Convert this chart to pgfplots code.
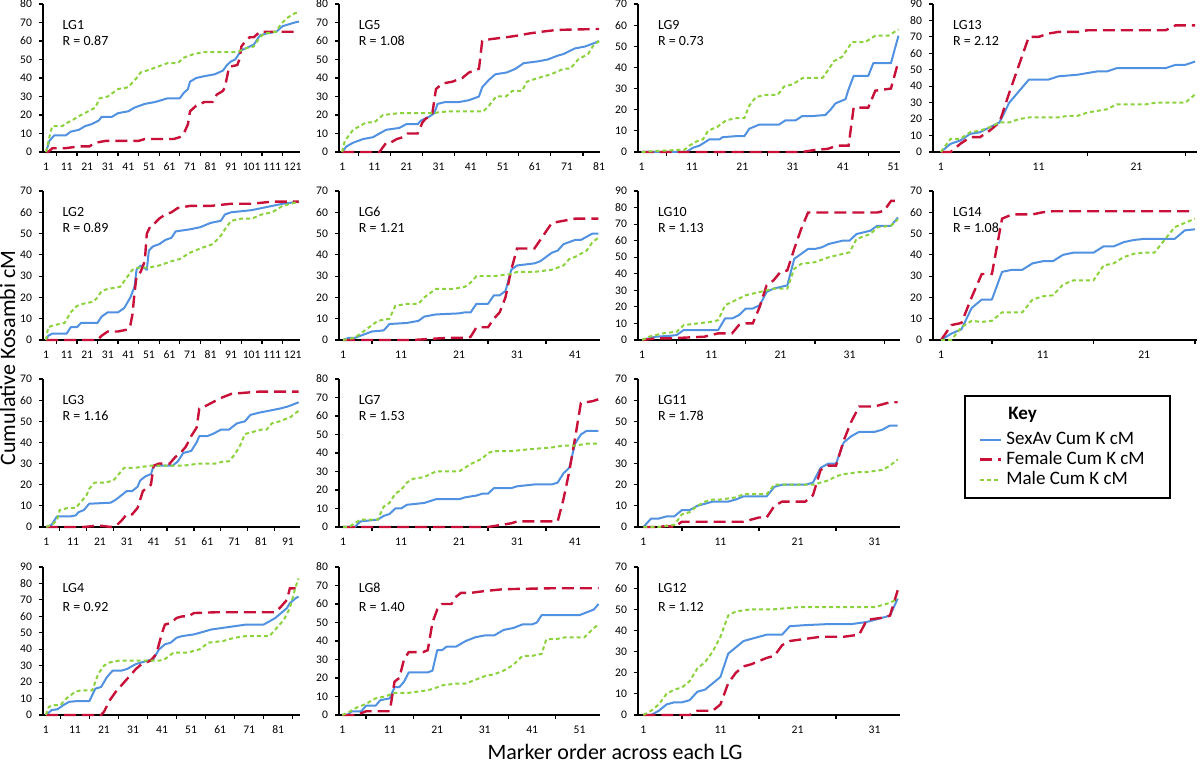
\documentclass[border=0pt]{standalone}
\usepackage{fontspec}
\setmainfont{Carlito}
\usepackage{pgfplots}
\pgfplotsset{compat=1.18}
\definecolor{cblue}{RGB}{80,145,225}
\definecolor{cred}{RGB}{200,16,56}
\definecolor{cgreen}{RGB}{140,210,60}
\tikzset{
 sa/.style={color=cblue, line width=1pt, line join=round},
 fe/.style={color=cred, line width=1.2pt, dash pattern=on 6pt off 3pt},
 ma/.style={color=cgreen, line width=1pt, dash pattern=on 2pt off 1.5pt},
 lgl/.style={anchor=west, font=\fontsize{7}{8}\selectfont, inner sep=0pt},
}
\pgfplotsset{
 lg/.style={
  scale only axis, anchor=south west,
  axis x line=bottom, axis y line=left,
  axis line style={-, line width=1.1pt, black},
  ymin=0, ytick distance=10,
  xtick={1,11,...,121},
  minor xtick={6,16,...,126},
  tick align=outside,
  major tick length=2pt, minor tick length=2pt,
  major x tick style={draw=none},
  tick style={black, line width=0.6pt},
  ticklabel style={font=\fontsize{5.8}{6.5}\selectfont},
  /pgf/number format/assume math mode=true,
  clip=false,
 },
 c1/.style={width=128.5pt}, c2/.style={width=130.5pt}, c3/.style={width=131pt}, c4/.style={width=132pt},
 r1/.style={height=74pt}, r2/.style={height=74.5pt}, r3/.style={height=74pt}, r4/.style={height=74pt},
}
\begin{document}
\begin{tikzpicture}
\useasboundingbox (0,0) rectangle (600pt,383pt);

% ---------------- Row 1 ----------------
\begin{axis}[lg, c1, r1, at={(21.5pt,307pt)}, xmin=-0.5, xmax=124.5, ymax=80]
\addplot[sa] coordinates {(1,0)(2.6,6)(5,9)(10.6,9)(13,11)(17,12)(20,14)(23,15)(26.6,17)(28,19)(33,19)(36,21)(41,22)(44,24)(49,26)(54,27)(57,28)(60,29)(66,29)(68,32)(70,34)(71,38)(74,40)(78,41)(83,42)(87,44)(89,47)(91,49)(93,50)(96,55)(100,57)(102,58)(105,63)(108,64)(113,65)(116,68)(119,69)(122,70)(124,70.5)};
\addplot[fe] coordinates {(1,0)(2,0)(4,2)(10,2)(17,3)(22,3)(25,5)(30,6)(46,6)(49,7)(63,7)(66,8)(68,10)(70,15)(71,22)(74,25)(78,27)(82,27)(84,31)(87,33)(88,35)(90,46)(94,47)(95,50)(96,57)(98,60)(100,62)(102,62)(105,65)(124,65)};
\addplot[ma] coordinates {(1,0)(3,10)(4,14)(9,14)(10,15)(15,18)(18,20)(25,24)(27,29)(31,30)(36,34)(41,35)(45,40)(47,43)(50,44)(55,46)(60,48)(65,48)(68,51)(73,53)(78,54)(94,54)(98,56)(102,57)(105,62)(107,64)(113,65)(115,69)(119,73)(122,75)(124,75)};
\node[lgl] at (rel axis cs:0.075,0.86) {LG1};
\node[lgl] at (rel axis cs:0.075,0.75) {R = 0.87};
\end{axis}

\begin{axis}[lg, c2, r1, at={(169.5pt,307pt)}, xmin=0, xmax=81.3, ymax=80]
\addplot[sa] coordinates {(1,0)(2.3,3)(4.4,5)(7.5,7)(10.6,8)(12.6,10)(14.7,12)(18.8,13)(20.9,15)(24.5,15)(25.5,17)(28,19)(29.7,21)(30.7,26)(33,27)(37.4,27)(40.5,28)(43.6,30)(44.6,35)(46.7,39)(48.7,42)(52.3,43)(55,45)(57.5,48)(62,49)(65,50)(68,52)(70,53)(73.5,56)(76.6,57)(79.7,59)(81,60)};
\addplot[fe] coordinates {(1,0)(12.6,0)(14.7,5)(16,5)(18,7)(19.9,8)(21.4,10)(24.5,10)(26,16)(27,18)(29,20)(30.2,34)(32.2,37)(35.3,38)(38.4,40)(40.5,43)(43.6,45)(44.6,60)(47.2,61)(52,62)(56,63)(59,64)(63,65)(68,66)(81,66.5)};
\addplot[ma] coordinates {(1,0)(1.8,6)(4.4,12)(8.5,16)(11,16)(13.7,20)(18.8,21)(29,21)(34,22)(45,22)(46.7,25)(49,30)(52,30)(54,33)(57,33)(58.5,38)(62,40)(66,42)(70,45)(72,45)(74.5,50)(77.6,53)(79,57)(81,60)};
\node[lgl] at (rel axis cs:0.075,0.86) {LG5};
\node[lgl] at (rel axis cs:0.075,0.75) {R = 1.08};
\end{axis}

\begin{axis}[lg, c3, r1, at={(319pt,307pt)}, xmin=0.3, xmax=52.3, ymax=70]
\addplot[sa] coordinates {(1,0)(9.9,0)(11.2,2)(12.5,3)(14.5,6)(16.5,6)(17.1,7)(19.8,7.5)(21.4,7.5)(22.4,11)(24.4,13)(28.3,13)(29.6,15)(31.6,15)(32.9,17)(34.9,17)(37.5,17.5)(38.5,20)(39.5,23)(41.5,25)(42,29)(43.1,36)(46,36)(47,42)(50.5,42)(52,55)};
\addplot[fe] coordinates {(1,0)(32.9,0)(35.5,1)(38,1.5)(39.8,3)(42.1,3)(43.1,21)(46,21)(47.4,29)(50.5,30)(52,43)};
\addplot[ma] coordinates {(1,0)(4,0.5)(8.6,1)(9.5,1)(10.5,3)(11.9,5)(13.2,6)(14.2,10)(16.1,12)(17.8,15)(19.8,16)(21.4,16)(22.4,22)(23.7,26)(25.7,27)(28,27)(29.3,31)(31,32)(33,35)(36.9,35)(37.8,38)(39.2,43)(40.8,45)(42.8,52)(45.4,52)(47.4,55)(50,55)(52,58)};
\node[lgl] at (rel axis cs:0.075,0.86) {LG9};
\node[lgl] at (rel axis cs:0.075,0.75) {R = 0.73};
\end{axis}

\begin{axis}[lg, c4, r1, at={(466.5pt,307pt)}, xmin=0.2, xmax=27.2, ymax=90]
\addplot[sa] coordinates {(1,0)(2,5)(3,7)(4,11)(5,12)(6,15)(7,18)(8,30)(9,37)(10,44)(12,44)(13,46)(14,46.5)(15,47)(16,48)(17,49)(18,49)(19,51)(24,51)(25,53)(26,53)(27,55)};
\addplot[fe] coordinates {(1,0)(2,0)(3,5)(4,9)(5,9)(6,13)(7,18)(8,36)(9,53)(10,70)(11,70)(12,72)(13,73)(15,73)(16,74)(24,74)(25,77)(27,77)};
\addplot[ma] coordinates {(1,0)(2,8)(3,8)(4,12)(5,13)(6,15)(7,18)(8,18)(9,20)(10,21)(13,21)(14,22)(15,22)(16,24)(17,25)(18,26)(19,29)(22,29)(23,30)(26,30)(27,35)};
\node[lgl] at (rel axis cs:0.075,0.86) {LG13};
\node[lgl] at (rel axis cs:0.075,0.75) {R = 2.12};
\end{axis}

% ---------------- Row 2 ----------------
\begin{axis}[lg, c1, r2, at={(21.5pt,213pt)}, xmin=-0.5, xmax=124.5, ymax=70]
\addplot[sa] coordinates {(1,0)(2,2)(4,3)(11,3)(13,6)(16,6)(18,8)(26,8)(28,11)(31,13)(36,13)(39,15)(42,20)(44,25)(45,33)(47,35)(50,33)(51,42)(53,44)(56,45)(59,47)(62,48)(64,51)(71,52)(76,53)(81,55)(86,56)(88,59)(91,60)(101,61)(106,62)(111,63)(116,64)(124,65)};
\addplot[fe] coordinates {(1,0)(26,0)(28,2)(31,4)(36,4)(41,5)(42,7)(43,12)(44,22)(45,30)(47,32)(49,37)(50,50)(52,54)(54,55)(56,57)(59,59)(62,60)(65,62)(71,63)(81,63)(91,64)(101,64)(111,65)(124,65)};
\addplot[ma] coordinates {(1,0)(2,6)(5,7)(10,8)(13,13)(16,16)(19,17)(24,18)(26,20)(28,23)(31,24)(37,25)(40,29)(43,33)(46,34)(51,34)(56,35)(62,37)(66,38)(71,41)(76,43)(82,45)(86,49)(88,52)(91,56)(96,57)(101,57)(106,59)(111,60)(116,63)(124,65)};
\node[lgl] at (rel axis cs:0.075,0.86) {LG2};
\node[lgl] at (rel axis cs:0.075,0.75) {R = 0.89};
\end{axis}

\begin{axis}[lg, c2, r2, at={(169.5pt,213pt)}, xmin=0.3, xmax=45.3, ymax=70]
\addplot[sa] coordinates {(1,0)(2,1)(3,1)(5,3)(6,4)(8,4.5)(9,7.5)(12,8)(14,9)(15,11)(17,12)(21,12.5)(22,13)(23,13)(24,17)(26,17)(27,21)(28,21)(29,23)(30,33)(31,35)(34,36)(35,37)(37,41)(38,42)(39,45)(41,47)(42,47)(44,50)(45,50)};
\addplot[fe] coordinates {(1,0)(13,0)(16,0.5)(19,1)(22,1)(23,1.5)(24,6)(26,6)(27,10)(28,13)(29,20)(30,33)(31,43)(34,43)(35,47)(37,55)(39,56)(41,57)(45,57)};
\addplot[ma] coordinates {(1,0)(3,1)(5,5)(7,9)(9,10)(10,16)(12,17)(14,17)(15,20)(17,24)(20,24)(22,25)(23,27)(24,30)(27,30)(30,31)(31,32)(34,32)(37,33)(39,35)(40,38)(41,39)(43,42)(44,46)(45,48)};
\node[lgl] at (rel axis cs:0.075,0.86) {LG6};
\node[lgl] at (rel axis cs:0.075,0.75) {R = 1.21};
\end{axis}

\begin{axis}[lg, c3, r2, at={(319pt,213pt)}, xmin=0.4, xmax=38.3, ymax=90]
\addplot[sa] coordinates {(1,0)(2,1)(3,2)(5,2.5)(6,3)(7,6)(12,6)(13,13)(14,13)(15,15)(16,19)(17,19)(18,21)(19,29)(20,31)(21,32)(22,33)(23,49)(24,52)(25,55)(26,55)(27,56)(28,58)(29,59)(30,60)(31,60)(32,64)(33,65)(34,66)(35,69)(37,69)(38,74)};
\addplot[fe] coordinates {(1,0)(3,1)(5,1)(10,2)(12,4)(14,4)(15,9)(16,10)(17,10)(18,20)(19,33)(20,36)(21,41)(22,42)(23,55)(24,67)(25,77)(35,77)(36,78)(37,84)(38,84)};
\addplot[ma] coordinates {(1,0)(2,2)(3,3)(4,4)(6,5)(7,9)(9,10)(11,11)(12,12)(13,21)(15,25)(16,27)(18,29)(20,31)(22,31)(23,43)(24,46)(26,47)(28,50)(31,53)(32,61)(34,64)(35,68)(37,69)(38,73)};
\node[lgl] at (rel axis cs:0.075,0.86) {LG10};
\node[lgl] at (rel axis cs:0.075,0.75) {R = 1.13};
\end{axis}

\begin{axis}[lg, c4, r2, at={(466.5pt,213pt)}, xmin=0.2, xmax=26.2, ymax=70]
\addplot[sa] coordinates {(1,0)(2,3)(3,5)(4,15)(5,19)(6,19)(7,32)(8,33)(9,33)(10,36)(11,37)(12,37)(13,40)(14,41)(16,41)(17,44)(18,44)(19,46)(20,47)(21,47.5)(24,47.5)(25,51.5)(26,52)};
\addplot[fe] coordinates {(1,0)(2,7)(3,8)(4,20)(5,31)(6,31)(7,57)(8,59)(10,59)(11,60)(12,60.5)(26,60.5)};
\addplot[ma] coordinates {(1,0)(2,0)(3,6)(4,9)(5,8.5)(6,9)(7,13)(9,13)(10,19)(11,20.5)(12,21)(13,26)(14,28)(16,28)(17,35)(18,36)(19,39)(20,40.5)(21,41)(22,41)(23,47)(24,53)(25,55)(26,57)};
\node[lgl] at (rel axis cs:0.075,0.86) {LG14};
\node[lgl] at (rel axis cs:0.075,0.75) {R = 1.08};
\end{axis}

% ---------------- Row 3 ----------------
\begin{axis}[lg, c1, r3, at={(21.5pt,119.5pt)}, xmin=-0.2, xmax=95.5, ymax=70]
\addplot[sa] coordinates {(1,0)(3,1)(5,5)(10,5)(12,5.5)(13,7)(15,8)(17,11)(25,11.5)(27,13)(29,15)(31,17)(33,17)(35,19)(36,22)(38,24)(40,25)(41,29)(48,29)(50,31)(52,35)(55,36)(57,40)(58,43)(61,43)(63,44)(66,46)(69,46)(72,49)(75,50)(77,53)(80,54)(84,55)(88,56)(91,57)(95,59)};
\addplot[fe] coordinates {(1,0)(15,0)(19,0.5)(22,0.5)(25,0)(27,0.5)(29,3)(31,6)(33,6)(35,9)(37,17)(39,19)(40,20)(41,29)(43,30)(47,30)(49,33)(51,35)(53,38)(55,43)(57,47)(58,56)(60,57)(63,59)(66,61)(70,63)(75,63.5)(80,64)(95,64)};
\addplot[ma] coordinates {(1,0)(3,1)(5,3)(6,8)(9,9)(12,9)(14,12)(16,15)(17,18)(19,21)(23,21)(26,22)(28,25)(30,28)(34,28)(40,29)(52,29)(58,30)(64,30)(67,31)(69,31)(71,34)(73,38)(75,44)(78,45)(81,46)(83,46)(85,49)(88,50)(92,52)(95,55)};
\node[lgl] at (rel axis cs:0.075,0.86) {LG3};
\node[lgl] at (rel axis cs:0.075,0.75) {R = 1.16};
\end{axis}

\begin{axis}[lg, c2, r3, at={(169.5pt,119.5pt)}, xmin=0.3, xmax=45.3, ymax=80]
\addplot[sa] coordinates {(1,0)(3,0)(4,3)(7,4)(8,6)(9,7)(10,10)(11,10)(12,12)(15,13)(17,15)(21,15)(22,16)(24,17)(25,18)(26,18)(27,21)(30,21)(31,22)(34,23)(37,23)(38,24)(39,29)(40,32)(41,45)(42,50)(43,52)(45,52)};
\addplot[fe] coordinates {(1,0)(26,0)(28,1)(30,2)(31,3)(38,3)(39,15)(40,30)(41,48)(42,67)(44,68)(45,69)};
\addplot[ma] coordinates {(1,0)(2,0)(3,2)(4,4)(7,4)(8,11)(9,13)(10,18)(11,20)(12,24)(13,26)(15,27)(17,30)(21,30)(23,34)(25,37)(26,40)(27,41)(30,41)(33,42)(37,43)(39,44)(41,44)(43,45)(45,45)};
\node[lgl] at (rel axis cs:0.075,0.86) {LG7};
\node[lgl] at (rel axis cs:0.075,0.75) {R = 1.53};
\end{axis}

\begin{axis}[lg, c3, r3, at={(319pt,119.5pt)}, xmin=0.3, xmax=34.3, ymax=70,
  legend style={at={(1.3,0.4527)}, anchor=west, draw=none, fill=none, inner sep=0pt,
    font=\fontsize{9.5}{10.5}\selectfont, cells={anchor=west}, row sep=-2pt},
  legend image code/.code={\draw[#1] (0pt,0pt) -- (10.5pt,0pt);}]
\addplot[sa] coordinates {(1,0)(2,4)(3,4)(4,5)(5,5)(6,8)(7,8)(8,10)(9,11)(10,12)(12,12)(13,13)(14,14.5)(17,14.5)(18,19)(19,20)(22,20)(23,21)(24,28)(25,30)(26,30)(27,40)(28,43)(29,45)(31,45)(32,46)(33,48)(34,48)};
\addlegendentry{SexAv Cum K cM}
\addplot[fe] coordinates {(1,0)(3,0)(4,0.5)(5,0)(6,2.5)(14,2.5)(15,3.5)(16,4.5)(17,4.5)(18,10)(19,12)(22,12)(23,15)(24,27)(25,29)(26,29)(27,41)(28,50)(29,57)(31,57)(32,58)(33,59)(34,59)};
\addlegendentry{Female Cum K cM}
\addplot[ma] coordinates {(1,0)(3,0)(4,0.5)(5,1)(6,6)(7,7)(8,10)(9,12)(10,13)(11,13)(12,13.5)(13,14)(14,15.5)(17,15.5)(18,20)(23,20)(24,21)(25,22)(26,24)(27,25)(28,25.5)(29,26)(30,26)(31,26.5)(32,27)(33,29)(34,32)};
\addlegendentry{Male Cum K cM}
\node[lgl] at (rel axis cs:0.075,0.86) {LG11};
\node[lgl] at (rel axis cs:0.075,0.75) {R = 1.78};
\end{axis}

% ---------------- Row 4 ----------------
\begin{axis}[lg, c1, r4, at={(21.5pt,25.5pt)}, xmin=0, xmax=88.5, ymax=90]
\addplot[sa] coordinates {(1,0)(3,3)(5,3.5)(7,6)(9,8)(12,8.5)(16,8.5)(18,16)(20,17)(22,23)(24,27)(27,27)(29,28)(32,31)(36,33)(38,34)(40,40)(42,43)(44,44)(46,47)(48,48)(52,49)(56,51)(58,52)(62,53)(66,54)(70,55)(76,55)(78,57)(80,59)(82,62)(84,65)(85,68)(87,71)(88,72)};
\addplot[fe] coordinates {(1,0)(20,0)(21,2)(23,9)(25,14)(27,18)(29,22)(30,24)(32,28)(34,31)(37,33)(39,37)(41,50)(42,55)(44,56)(46,59)(48,60)(50,60)(52,62)(60,62.5)(80,62.5)(82,66)(84,70)(85,77)(88,77)};
\addplot[ma] coordinates {(1,0)(2,5)(4,6)(6,6)(8,10)(11,14)(13,15)(17,15)(19,25)(21,30)(23,32)(26,33)(40,33)(42,34)(45,38)(50,38)(54,40)(57,44)(62,45)(66,47)(70,48)(78,48)(80,52)(83,58)(85,65)(87,78)(88,83)};
\node[lgl] at (rel axis cs:0.075,0.86) {LG4};
\node[lgl] at (rel axis cs:0.075,0.73) {R = 0.92};
\end{axis}

\begin{axis}[lg, c2, r4, at={(169.5pt,25.5pt)}, xmin=0.3, xmax=55.3, ymax=80]
\addplot[sa] coordinates {(1,0)(2,0)(3,2)(5,2)(6,5)(8,5)(9,8)(11,9)(12,15)(13,15)(14,18)(15,23)(19,23)(20,24)(21,35)(22,35)(23,37)(25,37)(27,40)(29,42)(31,43)(33,43)(35,46)(37,47)(39,49)(41,49)(42,50)(43,54)(51,54)(52,55)(54,57)(55,60)};
\addplot[fe] coordinates {(1,0)(4,0)(6,2)(11,2)(12,18)(13,20)(14,30)(15,34)(18,34)(19,35)(20,50)(21,57)(22,60)(24,60)(25,64)(26,66)(28,66)(31,67)(35,68)(45,68.5)(55,68.5)};
\addplot[ma] coordinates {(1,0)(2,1)(4,4)(6,6)(8,9)(10,10)(12,12)(15,12)(18,13)(20,14)(22,16)(25,17)(27,17)(29,19)(31,21)(33,22)(35,24)(37,27)(39,32)(41,32)(43,33)(44,41)(46,41)(48,42)(52,42)(54,47)(55,49)};
\node[lgl] at (rel axis cs:0.075,0.86) {LG8};
\node[lgl] at (rel axis cs:0.075,0.73) {R = 1.40};
\end{axis}

\begin{axis}[lg, c3, r4, at={(319pt,25.5pt)}, xmin=0.3, xmax=34.3, ymax=70]
\addplot[sa] coordinates {(1,0)(2,0)(3,2)(4,5)(5,6)(6,6)(7,7)(8,11)(9,12)(10,15)(11,18)(12,29)(13,32)(14,35)(15,36)(17,38)(19,38)(20,42)(22,42.5)(25,43)(28,43)(30,44)(32,46)(33,47)(34,55)};
\addplot[fe] coordinates {(1,0)(7,0)(8,2)(10,2)(11,5)(12,15)(13,20)(14,23)(15,24)(17,27)(18,28)(19,33)(20,35)(22,36)(24,37)(27,37)(29,38)(30,45)(32,46)(33,47)(34,59)};
\addplot[ma] coordinates {(1,0)(2,2)(3,5)(4,10)(5,12)(6,13)(7,16)(8,22)(9,25)(10,30)(11,37)(12,47)(13,49)(15,50)(18,50)(21,51)(31,51)(33,53)(34,55)};
\node[lgl] at (rel axis cs:0.075,0.86) {LG12};
\node[lgl] at (rel axis cs:0.075,0.73) {R = 1.12};
\end{axis}

% key frame and title
\draw[line width=1pt] (482.5pt,134pt) rectangle (585pt,185pt);
\node[anchor=base west, inner sep=0pt, font=\fontsize{9.5}{10.5}\selectfont\bfseries] at (504pt,173pt) {Key};
% axis titles
\node[rotate=90, anchor=base, inner sep=0pt, font=\fontsize{11}{13}\selectfont] at (7.5pt,204pt) {Cumulative Kosambi cM};
\node[anchor=base, inner sep=0pt, font=\fontsize{11}{13}\selectfont] at (307.5pt,3pt) {Marker order across each LG};
\end{tikzpicture}
\end{document}
